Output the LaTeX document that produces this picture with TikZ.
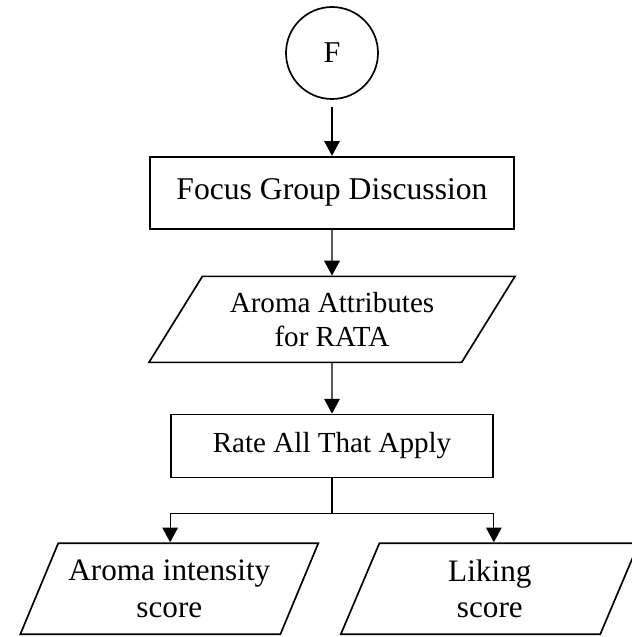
\documentclass[tikz,border=0pt]{standalone}
\usepackage{fontspec}
\setmainfont{Liberation Serif}
\usetikzlibrary{arrows.meta,positioning,shapes.geometric}
\tikzset{
  box/.style={draw, line width=1.2pt, align=center, font=\fontsize{20.7}{24}\selectfont},
  proc/.style={box, rectangle, minimum width=8.05cm, minimum height=1.575cm},
  io/.style={box, trapezium, trapezium stretches body, trapezium left angle=50, trapezium right angle=130, minimum width=9.15cm, minimum height=2.15cm},
  result/.style={io, trapezium left angle=56.6, trapezium right angle=123.4, minimum width=7.45cm, minimum height=2.275cm, inner xsep=-6pt, inner ysep=0pt, font=\fontsize{22.2}{26}\selectfont},
  conn/.style={circle, draw, line width=1.2pt, minimum size=2.3cm, font=\fontsize{21.5}{24}\selectfont},
  flow/.style={-{Triangle[length=3.7mm,width=3.9mm]}, line width=0.8pt},
  link/.style={line width=0.8pt},
}

\begin{document}
\begin{tikzpicture}[node distance=1.25cm]
  \useasboundingbox (0,0) rectangle (15.8,-15.925);
  \node[conn] (f) at (8.3,-1.325) {F};
  \node[proc, minimum width=9.1cm, minimum height=1.8cm, below=1.4cm of f, font=\fontsize{22.5}{26}\selectfont] (focus) {Focus Group Discussion};
  \node[io, below=1.15cm of focus] (attr) {Aroma Attributes\\for RATA};
  \node[proc, below=1.26cm of attr] (rata) {Rate All That Apply};
  \coordinate[below=0.875cm of rata] (split);
  \node[result, below=1.6cm of rata.south west, xshift=-0.02cm] (intensity) {Aroma intensity\\score};
  \node[result, below=1.6cm of rata.south east, xshift=-0.1cm] (liking) {Liking\\score};
  \draw[flow, shorten <=0.17cm] (f) -- (focus);
  \draw[flow] (focus) -- (attr);
  \draw[flow] (attr) -- (rata);
  \draw[link] (rata) -- (split);
  \draw[flow] (split) -| (intensity.north -| rata.west);
  \draw[flow] (split) -| (liking.north -| rata.east);
\end{tikzpicture}
\end{document}
